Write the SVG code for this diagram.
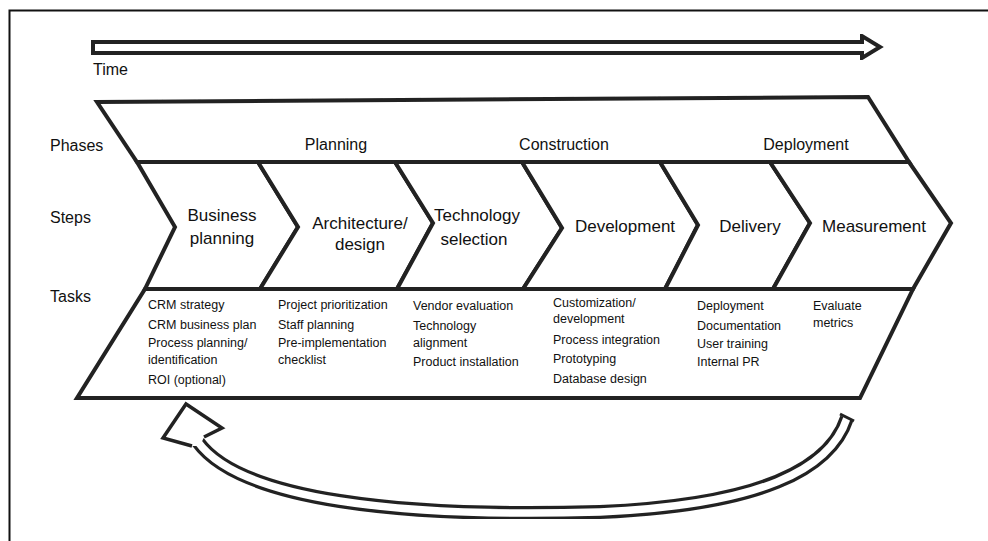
<svg xmlns="http://www.w3.org/2000/svg" width="988" height="541" viewBox="0 0 988 541">
<defs>
<filter id="soft" x="-5%" y="-5%" width="110%" height="110%"><feGaussianBlur stdDeviation="0.6"/></filter>
<style>
.frame{fill:none;stroke:#111;stroke-width:2}
.sk{fill:#fff;stroke:#222;stroke-width:4;stroke-linejoin:miter}
.t{font-family:"Liberation Sans",Arial,sans-serif;fill:#111}
.lbl{font-size:16px}
.ph{font-size:16px;text-anchor:middle}
.st{font-size:17px;text-anchor:middle}
.tk{font-size:12.5px}
</style>
</defs>
<rect width="988" height="541" fill="#fff"/>
<path class="frame" d="M9.5 541 V10.5 H988"/>

<g id="time-arrow">
<path class="sk" filter="url(#soft)" stroke-width="3" d="M93 42 L862 42 L862 36 L880 47 L862 58 L862 53 L93 53 Z"/>
<text class="t lbl" x="93" y="75">Time</text>
</g>

<g id="row-labels">
<text class="t lbl" x="50" y="151">Phases</text>
<text class="t lbl" x="50" y="223">Steps</text>
<text class="t lbl" x="50" y="302">Tasks</text>
</g>

<g id="phases">
<polygon class="sk" filter="url(#soft)" points="97,102 868,97 909,162 137,162"/>
<text class="t ph" x="336" y="150">Planning</text>
<text class="t ph" x="564" y="150">Construction</text>
<text class="t ph" x="806" y="150">Deployment</text>
</g>

<g id="step-business-planning">
<polygon class="sk" filter="url(#soft)" points="137,162 258,162 298,227 260,289 145,289 175,227"/>
<text class="t st" x="222" y="221">Business</text>
<text class="t st" x="222" y="244">planning</text>
</g>
<g id="step-architecture">
<polygon class="sk" filter="url(#soft)" points="258,162 395,162 433,223 397,289 260,289 298,227"/>
<text class="t st" x="360" y="229">Architecture/</text>
<text class="t st" x="360" y="250">design</text>
</g>
<g id="step-technology">
<polygon class="sk" filter="url(#soft)" points="395,162 522,162 562,228 523,289 397,289 433,223"/>
<text class="t st" x="477" y="221">Technology</text>
<text class="t st" x="474" y="245">selection</text>
</g>
<g id="step-development">
<polygon class="sk" filter="url(#soft)" points="522,162 660,162 698,225 665,289 523,289 562,228"/>
<text class="t st" x="625" y="232">Development</text>
</g>
<g id="step-delivery">
<polygon class="sk" filter="url(#soft)" points="660,162 770,162 810,223 773,289 665,289 698,225"/>
<text class="t st" x="750" y="232">Delivery</text>
</g>
<g id="step-measurement">
<polygon class="sk" filter="url(#soft)" points="770,162 909,162 951,223 913,289 773,289 810,223"/>
<text class="t st" x="874" y="232">Measurement</text>
</g>

<g id="tasks">
<polygon class="sk" filter="url(#soft)" points="145,289 913,289 860,398 77,398"/>
<g class="t tk">
<text x="148" y="309">CRM strategy</text>
<text x="148" y="329">CRM business plan</text>
<text x="148" y="347">Process planning/</text>
<text x="148" y="364">identification</text>
<text x="148" y="384">ROI (optional)</text>

<text x="278" y="309">Project prioritization</text>
<text x="278" y="329">Staff planning</text>
<text x="278" y="347">Pre-implementation</text>
<text x="278" y="364">checklist</text>

<text x="413" y="310">Vendor evaluation</text>
<text x="413" y="330">Technology</text>
<text x="413" y="347">alignment</text>
<text x="413" y="366">Product installation</text>

<text x="553" y="307">Customization/</text>
<text x="553" y="323">development</text>
<text x="553" y="344">Process integration</text>
<text x="553" y="363">Prototyping</text>
<text x="553" y="383">Database design</text>

<text x="697" y="310">Deployment</text>
<text x="697" y="330">Documentation</text>
<text x="697" y="348">User training</text>
<text x="697" y="366">Internal PR</text>

<text x="813" y="310">Evaluate</text>
<text x="813" y="327">metrics</text>
</g>
</g>

<g id="connectors">
<g id="loop-arrow" filter="url(#soft)">
<path d="M847 418 C830 470 760 505 600 512 C400 518 240 500 198 442" fill="none" stroke="#222" stroke-width="14"/>
<path d="M847 418 C830 470 760 505 600 512 C400 518 240 500 198 442" fill="none" stroke="#fff" stroke-width="7.5"/>
<line x1="840" y1="414" x2="854" y2="421" stroke="#222" stroke-width="3"/>
<polygon points="192,446 163,438 186,404 222,428 204,437 200,446" fill="#fff" stroke="none"/>
<path d="M192 446 L163 438 L186 404 L222 428 L204 437" fill="none" stroke="#222" stroke-width="3.5" stroke-linejoin="miter"/>
</g>
</g>
</svg>
